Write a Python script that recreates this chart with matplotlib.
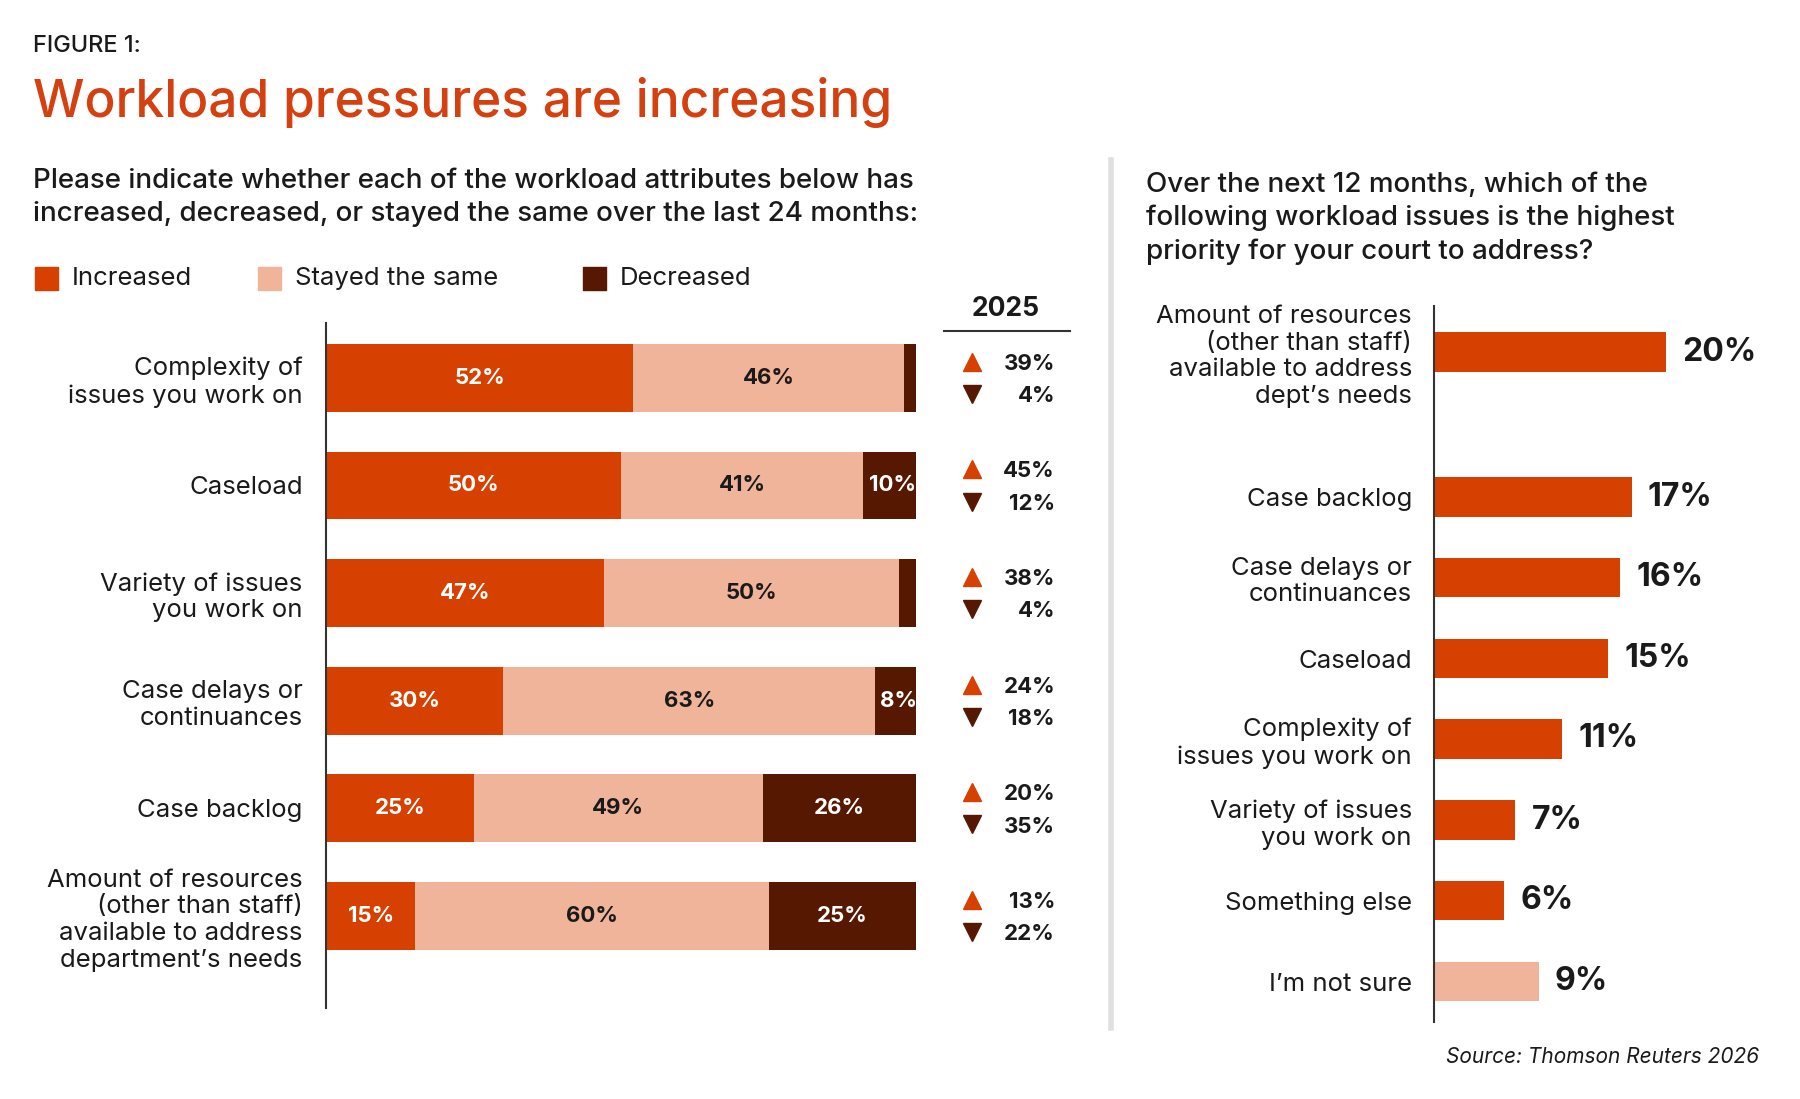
import matplotlib.pyplot as plt
from matplotlib.patches import Rectangle
from matplotlib.lines import Line2D

plt.rcParams['font.family'] = ['Inter', 'DejaVu Sans']

INC = '#D64000'
SAME = '#EFB49A'
DEC = '#561800'
TXT = '#1a1a1a'

# left chart data
cats = ['Complexity of\nissues you work on', 'Caseload', 'Variety of issues\nyou work on',
        'Case delays or\ncontinuances', 'Case backlog',
        'Amount of resources\n(other than staff)\navailable to address\ndepartment\u2019s needs']
increased = [52, 50, 47, 30, 25, 15]
same = [46, 41, 50, 63, 49, 60]
decreased = [2, 10, 3, 8, 26, 25]
up_2025 = [39, 45, 38, 24, 20, 13]
down_2025 = [4, 12, 4, 18, 35, 22]

# right chart data
issues = ['Amount of resources\n(other than staff)\navailable to address\ndept\u2019s needs',
          'Case backlog', 'Case delays or\ncontinuances', 'Caseload',
          'Complexity of\nissues you work on', 'Variety of issues\nyou work on',
          'Something else', 'I\u2019m not sure']
priority = [20, 17, 16, 15, 11, 7, 6, 9]

W, H = 1550, 946
fig = plt.figure(figsize=(18, 10.99), dpi=100)


def fx(x):
    return x / W


def fy(y):
    return 1 - y / H


fs = 18.5
fig.text(fx(28), fy(40), 'FIGURE 1:', fontsize=17, color=TXT, va='center', fontweight='medium')
fig.text(fx(28), fy(88), 'Workload pressures are increasing', fontsize=37, color='#D54010',
         va='center', fontweight='medium')
fig.text(fx(28), fy(170), 'Please indicate whether each of the workload attributes below has\n'
         'increased, decreased, or stayed the same over the last 24 months:',
         fontsize=20, color=TXT, va='center', linespacing=1.35, fontweight='medium')
fig.text(fx(987), fy(188), 'Over the next 12 months, which of the\nfollowing workload issues is the highest\n'
         'priority for your court to address?', fontsize=20, color=TXT, va='center',
         linespacing=1.35, fontweight='medium')

# legend
for x, c, lab in [(30, INC, 'Increased'), (222, SAME, 'Stayed the same'), (502, DEC, 'Decreased')]:
    fig.patches.append(Rectangle((fx(x), fy(250)), fx(20), 20 / H, color=c, transform=fig.transFigure))
    fig.text(fx(x + 32), fy(240), lab, fontsize=fs, color=TXT, va='center')

# separator
fig.add_artist(Line2D([fx(957), fx(957)], [fy(138), fy(885)], color='#e0e0e0', lw=4))

# left chart
ax = fig.add_axes([fx(281), fy(868), fx(508), (868 - 278) / H])
ys = list(range(len(cats)))
ax.barh(ys, increased, height=0.63, color=INC)
ax.barh(ys, same, left=increased, height=0.63, color=SAME)
lefts = [a + b for a, b in zip(increased, same)]
ax.barh(ys, decreased, left=lefts, height=0.63, color=DEC)
for i in ys:
    ax.text(increased[i] / 2, i, f'{increased[i]}%', ha='center', va='center', color='white',
            fontsize=16, fontweight='bold')
    ax.text(increased[i] + same[i] / 2, i, f'{same[i]}%', ha='center', va='center', color=TXT,
            fontsize=16, fontweight='bold')
    if decreased[i] >= 5:
        ax.text(lefts[i] + decreased[i] / 2, i, f'{decreased[i]}%', ha='center', va='center',
                color='white', fontsize=16, fontweight='bold')
    ax.plot(109.5, i - 0.15, marker='^', ms=13, color=INC, clip_on=False)
    ax.plot(109.5, i + 0.15, marker='v', ms=13, color=DEC, clip_on=False)
    ax.text(123.5, i - 0.13, f'{up_2025[i]}%', ha='right', va='center', color=TXT,
            fontsize=16, fontweight='bold')
    ax.text(123.5, i + 0.17, f'{down_2025[i]}%', ha='right', va='center', color=TXT,
            fontsize=16, fontweight='bold')
ax.set_xlim(0, 100)
ax.set_ylim(5.86, -0.51)
ax.set_yticks(ys, cats)
ax.tick_params(axis='y', length=0, pad=17, labelsize=fs, labelcolor=TXT)
ax.tick_params(axis='x', bottom=False, labelbottom=False)
for s in ['top', 'right', 'bottom']:
    ax.spines[s].set_visible(False)
ax.spines['left'].set_color('#333333')
ax.spines['left'].set_linewidth(1.5)
for lab in ax.get_yticklabels():
    lab.set_linespacing(1.2)
fig.text(fx(866), fy(266), '2025', fontsize=19, fontweight='bold', ha='center', va='center', color=TXT)
fig.add_artist(Line2D([fx(813), fx(921)], [fy(285), fy(285)], color='#333333', lw=1.5))

# right chart
ax2 = fig.add_axes([fx(1235), fy(880), 1 - fx(1235), (880 - 263) / H])
ry = [303, 428, 497, 567, 636, 706, 775, 845]
cols = [INC] * 7 + [SAME]
ax2.barh(ry, priority, height=34, color=cols)
for y, v in zip(ry, priority):
    ax2.text(v + 1.4, y, f'{v}%', ha='left', va='center', fontsize=23, fontweight='bold', color=TXT)
ax2.set_xlim(0, 31.5)
ax2.set_ylim(880, 263)
ax2.set_yticks(ry, issues)
ax2.tick_params(axis='y', length=0, pad=16, labelsize=fs, labelcolor=TXT)
ax2.tick_params(axis='x', bottom=False, labelbottom=False)
for s in ['top', 'right', 'bottom']:
    ax2.spines[s].set_visible(False)
ax2.spines['left'].set_color('#333333')
ax2.spines['left'].set_linewidth(1.5)
for lab in ax2.get_yticklabels():
    lab.set_linespacing(1.2)

fig.text(fx(1515), fy(910), 'Source: Thomson Reuters 2026', fontsize=15, style='italic',
         ha='right', va='center', color=TXT)

fig.savefig('out.png', dpi=100, facecolor='white')
